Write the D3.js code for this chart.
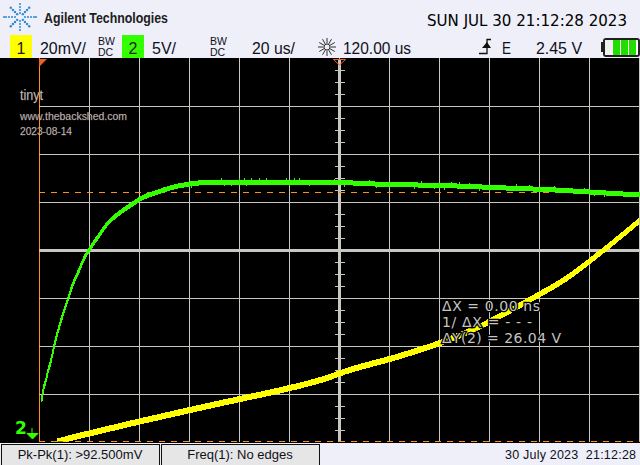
<!DOCTYPE html>
<html><head><meta charset="utf-8">
<script src="https://cdn.jsdelivr.net/npm/d3@7/dist/d3.min.js"></script>
<style>html,body{margin:0;padding:0;background:#eeeff8;overflow:hidden}svg{display:block}text{font-family:"Liberation Sans",sans-serif}</style>
</head><body><svg id="c" width="640" height="465"></svg>
<script>
const ch2Times=[1.1,1.7,2.8,3.7,4.7,6,7.7,9.7,11.7,13.7,15.5,18.4,20.4,23.6,27.6,31.6,35.6,39.2,41.2,46.4,52.4,60.4,67.2,90,120.4,133.6,140.4,167,187,207,220,236,240];
const ch2Volts=[3.96,5.0,6.04,7.08,7.95,9.51,11.25,12.99,14.55,16.11,17.16,18.89,19.76,20.94,22.40,23.33,24.06,24.69,25.0,25.52,26.04,26.46,26.61,26.65,26.61,26.46,26.43,26.25,26.04,25.83,25.63,25.39,25.36];
const ch1Times=[7.2,17.6,37.6,60.4,80.4,100.4,116.4,120,144.4,160.4,177.6,184.4,197.6,211.2,224.4,239.6];
const ch1MilliVolts=[0.2,2.92,7.92,13.33,17.92,22.5,27.08,28.5,35.83,41.25,48.75,52.5,60,68.33,78.75,91.67];
const ch2SpikesUp=[73,80,82,85,88,91,99,102,104,118,132,153,165,168,172,191,196,206,218];
const ch2SpikesDown=[61,74,77,83,100,108,122,135,150,158,162,176,198,222,226];
const timeDivTicks=[0,20,40,60,80,100,120,140,160,180,200,220,240];
const verticalDivTicks=[1,2,3,4,5,6,7];
const centreTicks=[70,82,94,118,130,142,166,178,190,214,226,238,262,274,286,310,322,334,358,370,382,406,418,430];
const topTexts=["20mV/","5V/","20 us/","120.00 us","E","2.45 V"];
const cursorLines=["ΔX = 0.00 ns","1/ ΔX = - - -","ΔY(2) = 26.04 V"];
const labelLines=["tinyt","www.thebackshed.com","2023-08-14"];

const svg=d3.select("#c");
const GRID="#c8c8c0",ORANGE="#ff9010",BG="#eeeff8",INK="#101020";
svg.append("rect").attr("width",640).attr("height",465).attr("fill",BG);
svg.append("rect").attr("y",58).attr("width",640).attr("height",385).attr("fill","#000");
svg.append("defs").append("clipPath").attr("id","plot").append("rect").attr("x",39).attr("y",59).attr("width",601).attr("height",382.5);

const x=d3.scaleLinear([0,240],[39,639]);
const divY=d3.scaleLinear([0,8],[442,58]);
const y2=d3.scaleLinear([0,5],[438,390]);
const y1=d3.scaleLinear([0,20],[442,394]);

// grid via axes
const gx=svg.append("g").attr("transform","translate(0,58)")
 .call(d3.axisBottom(x).tickValues(timeDivTicks).tickSize(384).tickFormat(""));
const gy=svg.append("g").attr("transform","translate(39,0)")
 .call(d3.axisRight(divY).tickValues(verticalDivTicks).tickSize(601).tickFormat(""));
[gx,gy].forEach(g=>{g.select(".domain").remove();g.selectAll("line").attr("stroke",GRID).attr("stroke-width",1).attr("shape-rendering","crispEdges");});
gx.selectAll("line").filter(d=>d===0).attr("stroke",ORANGE);
svg.append("line").attr("x1",x(120)+.5).attr("x2",x(120)+.5).attr("y1",59).attr("y2",442).attr("stroke",GRID).attr("stroke-width",3);
svg.append("line").attr("x1",39).attr("x2",640).attr("y1",divY(4)+.5).attr("y2",divY(4)+.5).attr("stroke",GRID).attr("stroke-width",3);
svg.append("g").selectAll("line").data(centreTicks).join("line")
 .attr("x1",335).attr("x2",345).attr("y1",d=>d+.5).attr("y2",d=>d+.5).attr("stroke",GRID).attr("shape-rendering","crispEdges");

// orange dashed reference lines
[192.5,441.5].forEach(p=>svg.append("line").attr("x1",39).attr("x2",640).attr("y1",p).attr("y2",p)
 .attr("stroke",ORANGE).attr("stroke-dasharray","6 6").attr("shape-rendering","crispEdges"));
svg.append("path").attr("d","M39,59H47L39,67Z").attr("fill","#f06020");
svg.append("path").attr("d","M333.5,59.5H345.5L339.5,65Z").attr("fill","none").attr("stroke","#f06020");

// traces
const traces=svg.append("g").attr("clip-path","url(#plot)").attr("shape-rendering","crispEdges");
const band=(yy,vals,half)=>d3.area().curve(d3.curveMonotoneX).x(d=>x(d)).y0((d,i)=>yy(vals[i])-half).y1((d,i)=>yy(vals[i])+half);
traces.append("path").datum(ch2Times).attr("fill","#33ff00").attr("stroke","#33ff00").attr("stroke-width",1.2).attr("d",band(y2,ch2Volts,1.9));
const ch2At=d3.scaleLinear(ch2Times,ch2Volts);
traces.selectAll(".su").data(ch2SpikesUp).join("line").attr("class","su")
 .attr("x1",d=>x(d)).attr("x2",d=>x(d)).attr("y1",d=>y2(ch2At(d))).attr("y2",d=>y2(ch2At(d))-4).attr("stroke","#33ff00");
traces.selectAll(".sd").data(ch2SpikesDown).join("line").attr("class","sd")
 .attr("x1",d=>x(d)).attr("x2",d=>x(d)).attr("y1",d=>y2(ch2At(d))).attr("y2",d=>y2(ch2At(d))+4).attr("stroke","#33ff00");
traces.append("path").datum(ch1Times).attr("fill","#ffff00").attr("stroke","#ffff00").attr("stroke-width",1).attr("d",band(y1,ch1MilliVolts,2.6));

// overlay labels
const lab=svg.append("g").attr("fill","#d8d0d0");
[[100,14,23],[120,11,107],[135,11,52]].forEach((s,i)=>lab.append("text").attr("x",20).attr("y",s[0]).attr("font-size",s[1])
 .attr("textLength",s[2]).attr("lengthAdjust","spacingAndGlyphs").attr("stroke","#806868").attr("stroke-width",.25).text(labelLines[i]));
[[311,98],[327,90],[343,119]].forEach((s,i)=>svg.append("text").attr("x",442).attr("y",s[0]).attr("font-size",14)
 .style("font-family","'DejaVu Sans'").attr("textLength",s[1]).attr("fill","#c4c4c4")
 .attr("stroke","#000").attr("stroke-width",2.5).style("paint-order","stroke").text(cursorLines[i]));

// ground marker
svg.append("text").attr("x",15).attr("y",434).attr("font-size",17).attr("font-weight","bold").style("font-family","'DejaVu Sans'").attr("fill","#33ff00").text("2");
svg.append("path").attr("d","M32,428V434M27,433.5H38L32.5,439Z").attr("fill","#33ff00").attr("stroke","#33ff00").attr("stroke-width",1);

// header: logo
const logo=svg.append("g").attr("transform","translate(20,17)").attr("fill","#2a8ad8");
d3.range(8).forEach(k=>{const a=k*Math.PI/4,long=k%4===0;
 (long?[5,8,11,14,16]:[4,7,10,13]).forEach(r=>logo.append("circle").attr("cx",Math.cos(a)*r).attr("cy",Math.sin(a)*r).attr("r",k%2?1.2:1));});
svg.append("text").attr("x",44).attr("y",23).attr("font-size",15).attr("font-weight","bold").attr("fill","#202020")
 .style("font-family","'Liberation Sans Narrow','Liberation Sans'").attr("textLength",124).attr("lengthAdjust","spacingAndGlyphs").text("Agilent Technologies");
svg.append("text").attr("x",427).attr("y",26).attr("font-size",15.5).attr("fill","#000").style("font-family","'DejaVu Sans'")
 .attr("textLength",200).attr("lengthAdjust","spacingAndGlyphs").text("SUN JUL 30 21:12:28 2023");

// channel boxes
[[10,"#ffff00","1"],[122,"#33ff00","2"]].forEach(b=>{
 svg.append("rect").attr("x",b[0]).attr("y",35).attr("width",22).attr("height",23).attr("fill",b[1]);
 svg.append("text").attr("x",b[0]+11).attr("y",54).attr("font-size",16).attr("text-anchor","middle").attr("fill","#202020").text(b[2]);});
[[40,46],[152,24],[252,43],[343,68],[502,9],[536,46]].forEach((s,i)=>svg.append("text").attr("x",s[0]).attr("y",54).attr("font-size",16)
 .attr("fill",INK).attr("textLength",s[1]).attr("lengthAdjust","spacingAndGlyphs").text(topTexts[i]));
[98,210].forEach(p=>{[["BW",45],["DC",56]].forEach(t=>svg.append("text").attr("x",p).attr("y",t[1]).attr("font-size",10.5).attr("fill",INK).text(t[0]));});

// sun icon
const sun=svg.append("g").attr("transform","translate(327,47)").attr("stroke","#303030").attr("stroke-width",1);
d3.range(12).forEach(k=>{const a=k*Math.PI/6;sun.append("line").attr("x1",Math.cos(a)*3.5).attr("y1",Math.sin(a)*3.5).attr("x2",Math.cos(a)*9).attr("y2",Math.sin(a)*9);});
sun.append("circle").attr("r",3).attr("fill","#eeeff8");

// trigger icon
svg.append("path").attr("d","M479,53.5H487V39.5H491").attr("fill","none").attr("stroke","#101010").attr("stroke-width",1.3);
svg.append("path").attr("d","M482,48L487,42L491,48Z").attr("fill","#101010");

// battery
svg.append("rect").attr("x",601).attr("y",42).attr("width",3).attr("height",10).attr("fill","#202020");
svg.append("rect").attr("x",604).attr("y",39).attr("width",35).attr("height",17).attr("rx",2).attr("fill","#fff").attr("stroke","#202020").attr("stroke-width",2);
[613,621,629].forEach(p=>svg.append("rect").attr("x",p).attr("y",40).attr("width",7).attr("height",15).attr("fill","#22dd00"));
svg.append("rect").attr("x",605).attr("y",40).attr("width",7).attr("height",15).attr("fill","#f0f0f0");

// footer
[[1,158,"Pk-Pk(1): >92.500mV"],[161,158,"Freq(1): No edges"]].forEach(b=>{
 svg.append("rect").attr("x",b[0]+.5).attr("y",444.5).attr("width",b[1]).attr("height",21).attr("fill","#e6e6e6").attr("stroke","#101010");
 svg.append("text").attr("x",b[0]+b[1]/2).attr("y",459).attr("font-size",13).attr("text-anchor","middle").attr("fill",INK).text(b[2]);});
svg.append("text").attr("x",505).attr("y",459).attr("font-size",12.5).attr("fill",INK).attr("textLength",131).attr("xml:space","preserve").style("white-space","pre").text("30 July 2023  21:12:28");
</script></body></html>
